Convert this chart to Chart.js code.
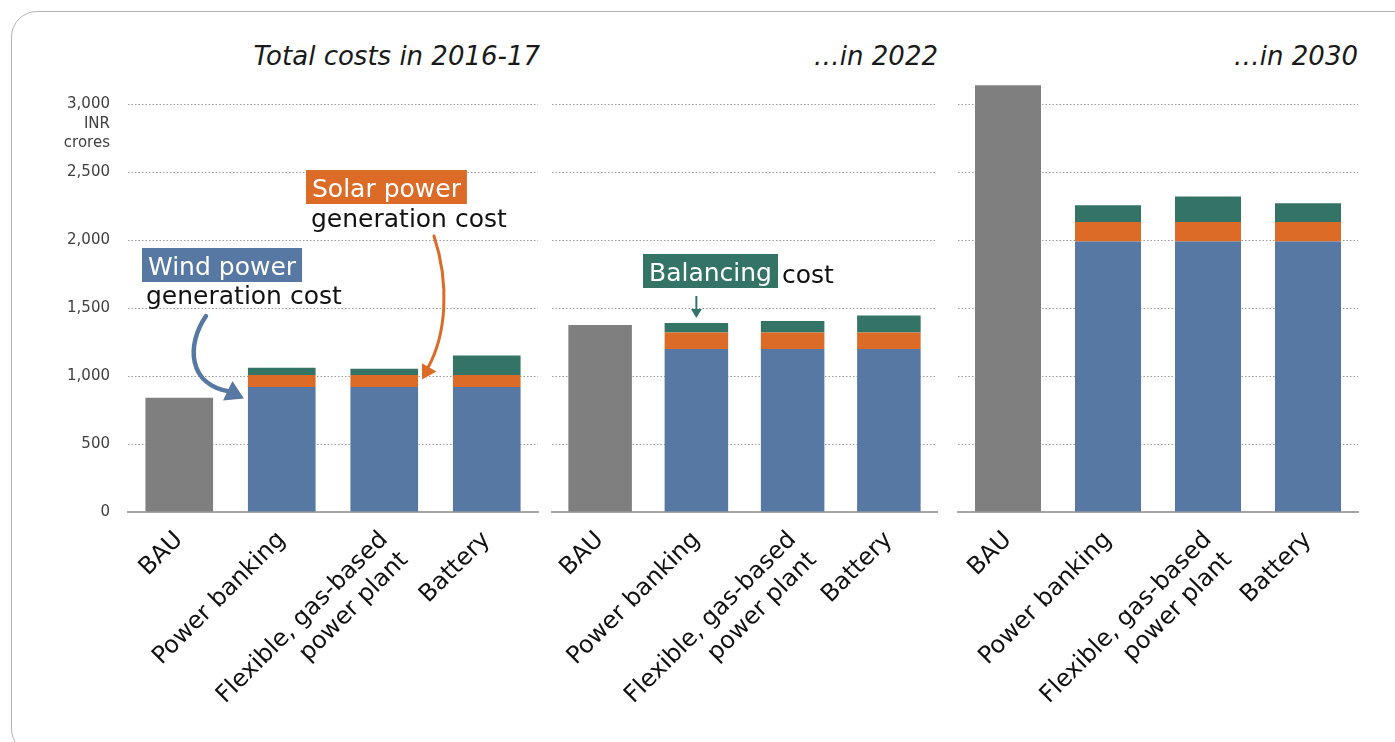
<!DOCTYPE html>
<html lang="en">
<head>
<meta charset="utf-8" />
<script src="https://cdn.jsdelivr.net/npm/chart.js@4"></script>
<style>
  body { margin: 0; background: #fff; overflow: hidden; }
  #wrap { position: relative; width: 1395px; height: 742px; overflow: hidden; }
  #frame { position: absolute; left: 11px; top: 11px; width: 1420px; height: 742px;
           border: 1.5px solid #b4b4b4; border-radius: 26px; }
  canvas { position: absolute; top: 0; }
  .title { position: absolute; top: 41px; font: italic 26px "DejaVu Sans"; color: #1a1a1a; text-align: right; }
</style>
</head>
<body>
<div id="wrap">
  <div id="frame"></div>
  <div class="title" style="right:855px">Total costs in 2016-17</div>
  <div class="title" style="right:457px">…in 2022</div>
  <div class="title" style="right:37px">…in 2030</div>
  <canvas id="c1" width="540" height="742" style="left:0px"></canvas>
  <canvas id="c2" width="395" height="742" style="left:545px"></canvas>
  <canvas id="c3" width="410" height="742" style="left:950px"></canvas>
</div>
<script>
// categories and values (INR crores)
var categories = ['BAU', 'Power banking', ['Flexible, gas-based', 'power plant'], 'Battery'];
var yTicks = [0, 500, 1000, 1500, 2000, 2500, 3000];
var bauCost = [840, 1375, 3140];             // 2016-17, 2022, 2030

var wind2017 = [920, 920, 920];
var solar2017 = [87, 87, 87];
var balancing2017 = [54, 47, 145];

var wind2022 = [1200, 1200, 1200];
var solar2022 = [120, 120, 120];
var balancing2022 = [70, 85, 125];

var wind2030 = [1990, 1990, 1990];
var solar2030 = [143, 143, 143];
var balancing2030 = [123, 188, 138];

var FONT = '"DejaVu Sans"';
var GRAY = '#7f7f7f', BLUE = '#5778a2', ORANGE = '#dc6b28', GREEN = '#337466';

// helpers for the call-outs
function box(ctx, x, y, text, bg) {
    ctx.font = '25px ' + FONT;
    var w = ctx.measureText(text).width;
    ctx.fillStyle = bg;
    ctx.fillRect(x, y, w + 12, 34);
    ctx.fillStyle = '#fff';
    ctx.textAlign = 'left';
    ctx.textBaseline = 'alphabetic';
    ctx.fillText(text, x + 6, y + 27);
    return w + 12;
}
function plain(ctx, x, y, text) {
    ctx.font = '25px ' + FONT;
    ctx.fillStyle = '#111';
    ctx.textAlign = 'left';
    ctx.textBaseline = 'alphabetic';
    ctx.fillText(text, x, y);
}
function head(ctx, tx, ty, ang, size, color) {
    ctx.save();
    ctx.translate(tx, ty);
    ctx.rotate(ang);
    ctx.fillStyle = color;
    ctx.beginPath();
    ctx.moveTo(0, 0);
    ctx.lineTo(-size, -size * 0.6);
    ctx.lineTo(-size, size * 0.6);
    ctx.closePath();
    ctx.fill();
    ctx.restore();
}

var notes2017 = {
    id: 'notes2017',
    afterDraw: function (chart) {
        var ctx = chart.ctx, x = chart.scales.x, y = chart.scales.y;
        ctx.save();
        // axis unit under the top tick
        ctx.font = '15px ' + FONT;
        ctx.fillStyle = '#404040';
        ctx.textAlign = 'right';
        ctx.textBaseline = 'middle';
        ctx.fillText('INR', 110, y.getPixelForValue(3000) + 20);
        ctx.fillText('crores', 110, y.getPixelForValue(3000) + 39);

        box(ctx, 142, 248, 'Wind power', BLUE);
        plain(ctx, 146, 304, 'generation cost');
        box(ctx, 306, 170, 'Solar power', ORANGE);
        plain(ctx, 311, 227, 'generation cost');

        // wind arrow
        var half = chart.getDatasetMeta(1).data[1].width / 2;
        var tx = x.getPixelForValue(1) - half - 4, ty = y.getPixelForValue(835);
        ctx.strokeStyle = BLUE;
        ctx.lineWidth = 4.5;
        ctx.lineCap = 'round';
        ctx.beginPath();
        ctx.moveTo(206, 316);
        ctx.bezierCurveTo(186, 345, 188, 385, tx - 14, ty - 7);
        ctx.stroke();
        head(ctx, tx, ty, 0.45, 18, BLUE);

        // solar arrow
        var half2 = chart.getDatasetMeta(1).data[2].width / 2;
        var sx = x.getPixelForValue(2) + half2 + 4, sy = y.getPixelForValue(975);
        ctx.strokeStyle = ORANGE;
        ctx.lineWidth = 3;
        ctx.beginPath();
        ctx.moveTo(434, 236);
        ctx.bezierCurveTo(450, 285, 446, 335, sx + 6, sy - 12);
        ctx.stroke();
        head(ctx, sx, sy, 2.1, 14, ORANGE);
        ctx.restore();
    }
};

var notes2022 = {
    id: 'notes2022',
    afterDraw: function (chart) {
        var ctx = chart.ctx, x = chart.scales.x, y = chart.scales.y;
        ctx.save();
        var bw = box(ctx, 98, 254, 'Balancing', GREEN);
        plain(ctx, 98 + bw + 4, 283, 'cost');
        var top = wind2022[0] + solar2022[0] + balancing2022[0];
        var ax = x.getPixelForValue(1), ay = y.getPixelForValue(top) - 5;
        ctx.strokeStyle = GREEN;
        ctx.lineWidth = 2;
        ctx.beginPath();
        ctx.moveTo(ax, 296);
        ctx.lineTo(ax, ay - 6);
        ctx.stroke();
        head(ctx, ax, ay, Math.PI / 2, 9, GREEN);
        ctx.restore();
    }
};

function makeChart(id, bau, wind, solar, bal, yWidth, padRight, showTicks, plugins) {
    return new Chart(document.getElementById(id), {
        type: 'bar',
        data: {
            labels: categories,
            datasets: [
                { label: 'BAU', data: [bau, null, null, null], backgroundColor: GRAY },
                { label: 'Wind power generation cost', data: [null].concat(wind), backgroundColor: BLUE },
                { label: 'Solar power generation cost', data: [null].concat(solar), backgroundColor: ORANGE },
                { label: 'Balancing cost', data: [null].concat(bal), backgroundColor: GREEN }
            ]
        },
        options: {
            responsive: false,
            animation: false,
            datasets: { bar: { categoryPercentage: 0.66, barPercentage: 1, borderWidth: 0 } },
            layout: { padding: { top: 77, right: padRight, left: 0, bottom: 0 } },
            plugins: { legend: { display: false }, tooltip: { enabled: false } },
            scales: {
                x: {
                    stacked: true,
                    grid: { display: false },
                    border: { display: true, color: '#a6a6a6', width: 2 },
                    ticks: {
                        color: '#111', font: { family: FONT, size: 24 },
                        minRotation: 45, maxRotation: 45, autoSkip: false, padding: 6
                    },
                    afterFit: function (s) { s.height = 230; }
                },
                y: {
                    stacked: true,
                    min: 0, max: 3200,
                    grid: { color: '#9a9a9a', lineWidth: 1, drawTicks: false },
                    border: { display: false, dash: [1.5, 2] },
                    afterBuildTicks: function (s) {
                        s.ticks = yTicks.map(function (v) { return { value: v }; });
                    },
                    ticks: {
                        display: showTicks,
                        color: '#404040', font: { family: FONT, size: 15 }, padding: 18,
                        callback: function (v) { return v.toLocaleString('en-US'); }
                    },
                    afterFit: function (s) { s.width = yWidth; }
                }
            }
        },
        plugins: plugins
    });
}

makeChart('c1', bauCost[0], wind2017, solar2017, balancing2017, 128, 2, true, [notes2017]);
makeChart('c2', bauCost[1], wind2022, solar2022, balancing2022, 7, 3, false, [notes2022]);
makeChart('c3', bauCost[2], wind2030, solar2030, balancing2030, 8, 2, false, []);
</script>
</body>
</html>
